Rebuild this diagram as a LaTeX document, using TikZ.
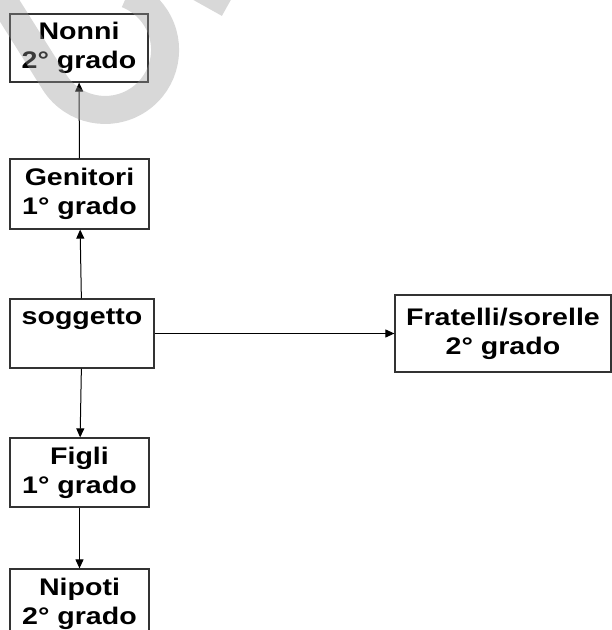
\documentclass[tikz,border=0pt]{standalone}
\usepackage{fontspec}
\setmainfont{Liberation Sans}[FakeStretch=1.19]
\usepackage{tikz}
\usetikzlibrary{positioning,arrows.meta}
\colorlet{markgray}{black!40}
\colorlet{boxline}{black!80}

\begin{document}
\begin{tikzpicture}[x=1pt, y=1pt,
    every node/.style={font=\bfseries\fontsize{24}{29}\selectfont, align=center},
    grade/.style={draw=boxline, line width=1.2pt, fill=white, minimum width=139pt, minimum height=69pt, inner sep=0pt},
    link/.style={-{Triangle[length=9pt,width=8pt]}, line width=1pt}]
        \useasboundingbox (0,0) rectangle (612,630);

        \node[grade, minimum width=138pt, minimum height=68pt] (nonni) at (79,582) {Nonni\\2°\ grado};
        \node[grade, minimum height=70pt] (genitori) at (79.5,436) {Genitori\\1°\ grado};
        \node[grade, minimum width=144pt] (soggetto) at (82,296.5) {soggetto\\\phantom{2°\ grado}};
        \node[grade, minimum width=216pt, minimum height=77pt] (fratelli) at (503,296.5) {Fratelli/sorelle\\2°\ grado};
        \node[grade] (figli) at (79.5,157.5) {Figli\\1°\ grado};
        \node[grade] (nipoti) at (79.5,26.5) {Nipoti\\2°\ grado};

        \draw[link] (genitori) -- (nonni);
        \draw[link] (soggetto) -- (genitori);
        \draw[link] (soggetto) -- (figli);
        \draw[link] (figli) -- (nipoti);
        \draw[link] (soggetto) -- (fratelli);

        \draw[markgray, opacity=0.38, line width=28pt] (-9,649) -- (55,547) arc[start angle=213.4, end angle=428, radius=60];
        \draw[markgray, opacity=0.38, line width=25pt] (160,663) -- (228,625);
    \end{tikzpicture}
\end{document}
